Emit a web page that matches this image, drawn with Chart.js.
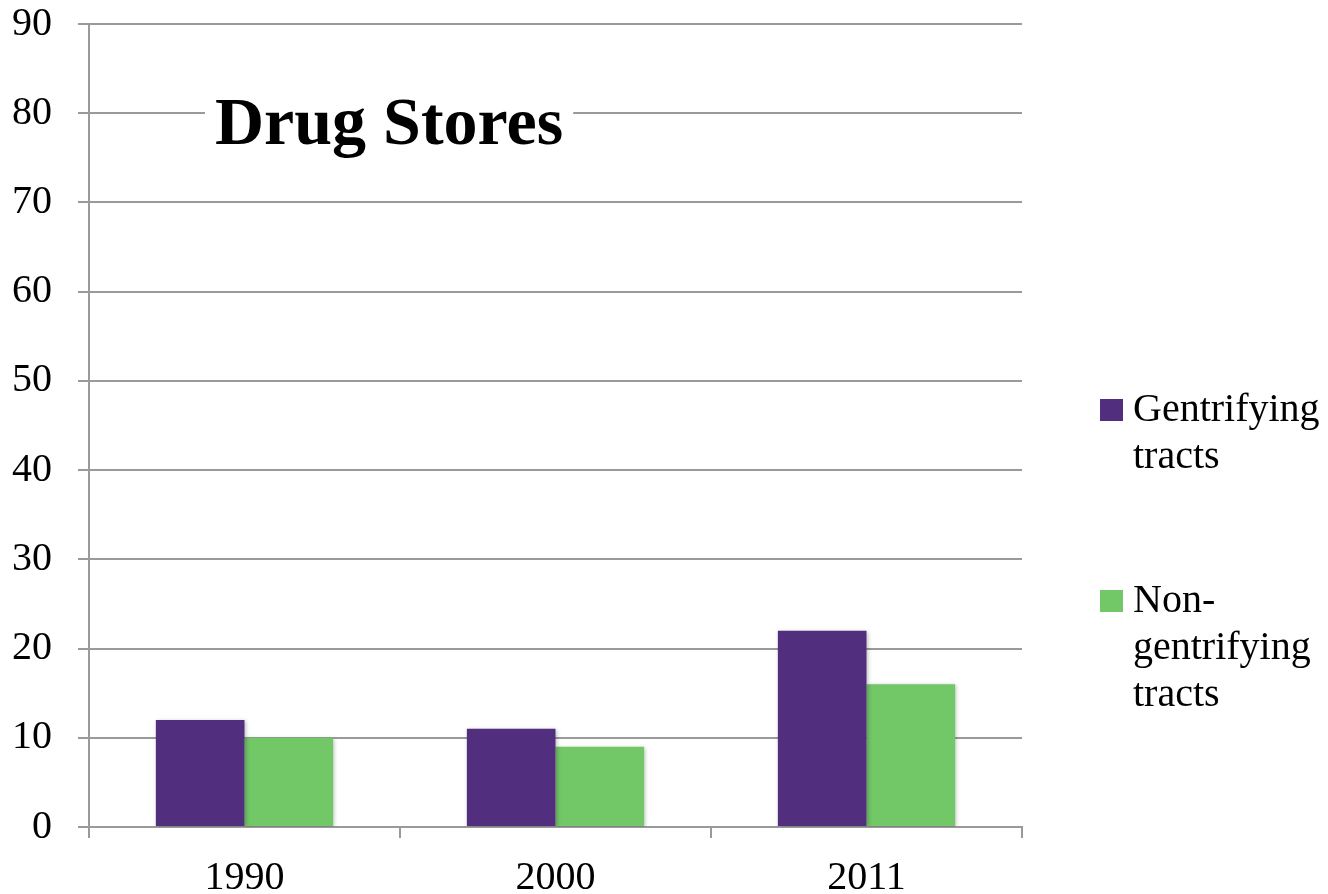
<!DOCTYPE html>
<html>
<head>
<meta charset="utf-8">
<script src="https://cdn.jsdelivr.net/npm/chart.js@4/dist/chart.umd.min.js"></script>
<style>
html,body{margin:0;padding:0;background:#fff;}
#wrap{width:1328px;height:894px;position:relative;}
</style>
</head>
<body>
<div id="wrap"><canvas id="c" width="1328" height="894"></canvas></div>
<script>
const chartTitle = "Drug Stores";
const categories = ["1990", "2000", "2011"];
const seriesNames = ["Gentrifying tracts", "Non-gentrifying tracts"];
const legendLines = [["Gentrifying", "tracts"], ["Non-", "gentrifying", "tracts"]];
const gentrifying = [12, 11, 22];
const nonGentrifying = [10, 9, 16];
const yTicks = [0, 10, 20, 30, 40, 50, 60, 70, 80, 90];
const colors = ["#512E7E", "#72C767"];

const FONT = "'Liberation Serif', 'Times New Roman', serif";
const GRID = "#9a9a9a";

const titlePlugin = {
  id: "insideTitle",
  afterDraw(chart) {
    const ctx = chart.ctx, a = chart.chartArea;
    ctx.save();
    ctx.font = "bold 68px " + FONT;
    const w = ctx.measureText(chartTitle).width;
    const x = a.left + 126, base = a.top + 120;
    ctx.fillStyle = "#fff";
    ctx.fillRect(x - 10, base - 60, w + 20, 75);
    ctx.fillStyle = "#000";
    ctx.textBaseline = "alphabetic";
    ctx.fillText(chartTitle, x, base);
    ctx.restore();
  }
};

const legendPlugin = {
  id: "sideLegend",
  afterDraw(chart) {
    const ctx = chart.ctx, a = chart.chartArea;
    ctx.save();
    ctx.font = "40px " + FONT;
    ctx.textBaseline = "middle";
    const x0 = a.right + 78;
    const starts = [410, 601];
    chart.data.datasets.forEach((ds, i) => {
      const y = starts[i];
      ctx.fillStyle = ds.backgroundColor;
      ctx.fillRect(x0, y - 11, 23, 22);
      ctx.fillStyle = "#000";
      legendLines[i].forEach((ln, j) => {
        ctx.fillText(ln, x0 + 33, y + j * 47);
      });
    });
    ctx.restore();
  }
};

const shadowPlugin = {
  id: "barShadow",
  beforeDatasetsDraw(chart) {
    const ctx = chart.ctx;
    ctx.save();
    ctx.shadowColor = "rgba(0,0,0,0.25)";
    ctx.shadowBlur = 4;
    ctx.shadowOffsetX = 1;
    ctx.shadowOffsetY = 1;
  },
  afterDatasetsDraw(chart) {
    chart.ctx.restore();
  }
};

new Chart(document.getElementById("c"), {
  type: "bar",
  data: {
    labels: categories,
    datasets: [
      { label: seriesNames[0], data: gentrifying, backgroundColor: colors[0] },
      { label: seriesNames[1], data: nonGentrifying, backgroundColor: colors[1] }
    ]
  },
  options: {
    responsive: false,
    animation: false,
    layout: { padding: { left: 0, right: 306, top: 24, bottom: 0 } },
    plugins: { legend: { display: false }, title: { display: false }, tooltip: { enabled: false } },
    datasets: { bar: { categoryPercentage: 0.57, barPercentage: 1.0 } },
    scales: {
      x: {
        grid: { display: true, drawOnChartArea: false, drawTicks: true, tickLength: 11, color: GRID, lineWidth: 2, offset: true },
        border: { display: true, color: GRID, width: 2 },
        ticks: { color: "#000", font: { family: FONT, size: 40 }, padding: 16, maxRotation: 0 },
        afterFit(s) { s.height = 67; s.paddingLeft = 0; s.paddingRight = 0; }
      },
      y: {
        min: 0, max: 90,
        afterBuildTicks(s) { s.ticks = yTicks.map(v => ({ value: v })); },
        grid: { color: GRID, lineWidth: 2, tickLength: 11 },
        border: { display: true, color: GRID, width: 2 },
        ticks: { color: "#000", font: { family: FONT, size: 40 }, padding: 26 },
        afterFit(s) { s.width = 89; s.paddingTop = 0; s.paddingBottom = 0; }
      }
    }
  },
  plugins: [shadowPlugin, titlePlugin, legendPlugin]
});
</script>
</body>
</html>
